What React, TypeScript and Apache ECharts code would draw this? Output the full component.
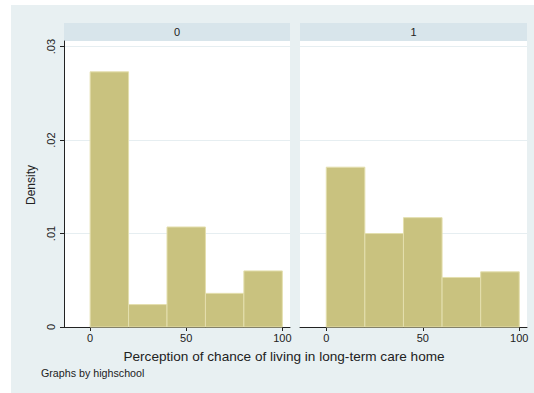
import React, { useEffect, useRef } from "react";
import * as echarts from "echarts";

// Histogram bins (left edges) and bin width, shared by both panels
const binStarts = [0, 20, 40, 60, 80];
const binWidth = 20;
// Density per bin for each highschool group
const densityGroup0 = [0.0273, 0.0024, 0.0107, 0.0036, 0.006];
const densityGroup1 = [0.0171, 0.01, 0.0117, 0.0053, 0.0059];
const panelTitles = ["0", "1"];
const xTicks = [0, 50, 100];
const yTicks = [0, 0.01, 0.02, 0.03];

const FONT = "Liberation Sans, Arial, Helvetica, sans-serif";
const BAR_FILL = "#c9c27f";
const BAR_EDGE = "#e4dfae";
const BG = "#e8f0f2";
const STRIP = "#d8e5eb";
const GRID_LINE = "#e6eef1";

const fmtY = (v: number) => (v === 0 ? "0" : v.toFixed(2).replace(/^0\./, "."));

function histSeries(values: number[], idx: number) {
  return {
    type: "custom",
    xAxisIndex: idx,
    yAxisIndex: idx,
    data: binStarts.map((s, i) => [s, s + binWidth, values[i]]),
    renderItem: (params: any, api: any) => {
      const x0 = api.value(0);
      const x1 = api.value(1);
      const y = api.value(2);
      const p0 = api.coord([x0, y]);
      const p1 = api.coord([x1, 0]);
      return {
        type: "rect",
        shape: { x: p0[0], y: p0[1], width: p1[0] - p0[0], height: p1[1] - p0[1] },
        style: { fill: BAR_FILL, stroke: BAR_EDGE, lineWidth: 1 },
      };
    },
  };
}

function xAxis(idx: number) {
  return {
    type: "value",
    gridIndex: idx,
    min: -13.6,
    max: 104,
    axisLine: { show: true, lineStyle: { color: "#222", width: 1 } },
    axisTick: { show: true, length: 4, customValues: xTicks, lineStyle: { color: "#222" } },
    axisLabel: {
      customValues: xTicks,
      color: "#222",
      fontFamily: FONT,
      fontSize: 11,
      margin: 5,
    },
    splitLine: { show: false },
  };
}

function yAxis(idx: number) {
  const first = idx === 0;
  return {
    type: "value",
    gridIndex: idx,
    min: 0,
    max: 0.0306,
    axisLine: { show: first, onZero: false, lineStyle: { color: "#222", width: 1 } },
    axisTick: { show: first, length: 4, customValues: yTicks, lineStyle: { color: "#222" } },
    axisLabel: {
      show: first,
      customValues: yTicks,
      rotate: 90,
      color: "#222",
      fontFamily: FONT,
      fontSize: 11,
      margin: 8,
      formatter: fmtY,
    },
    splitLine: { show: true, lineStyle: { color: GRID_LINE, width: 1 } },
  };
}

export default function App() {
  const ref = useRef<HTMLDivElement>(null);
  useEffect(() => {
    if (!ref.current) return;
    const chart = echarts.init(ref.current, undefined, { renderer: "svg" });
    const gridTop = 41;
    const gridHeight = 286;
    const panels = [
      { left: 64, width: 226 },
      { left: 300, width: 227 },
    ];
    chart.setOption({
      animation: false,
      backgroundColor: "#ffffff",
      grid: panels.map((p) => ({
        left: p.left,
        top: gridTop,
        width: p.width,
        height: gridHeight,
        show: true,
        backgroundColor: "#ffffff",
        borderWidth: 0,
      })),
      xAxis: [xAxis(0), xAxis(1)],
      yAxis: [yAxis(0), yAxis(1)],
      series: [histSeries(densityGroup0, 0), histSeries(densityGroup1, 1)],
      graphic: [
        {
          type: "rect",
          z: -10,
          silent: true,
          shape: { x: 11, y: 5, width: 523, height: 388 },
          style: { fill: BG },
        },
        ...panels.map((p, i) => ({
          type: "group",
          children: [
            {
              type: "rect",
              shape: { x: p.left, y: 23, width: p.width, height: 18 },
              style: { fill: STRIP },
            },
            {
              type: "text",
              x: p.left + p.width / 2,
              y: 32,
              style: {
                text: panelTitles[i],
                fill: "#222",
                font: `11px ${FONT}`,
                textAlign: "center",
                textVerticalAlign: "middle",
              },
            },
          ],
        })),
        {
          type: "text",
          x: 31,
          y: 185,
          rotation: Math.PI / 2,
          style: {
            text: "Density",
            fill: "#222",
            font: `12px ${FONT}`,
            textAlign: "center",
            textVerticalAlign: "middle",
          },
        },
        {
          type: "text",
          x: 284,
          y: 356,
          style: {
            text: "Perception of chance of living in long-term care home",
            fill: "#222",
            font: `13.6px ${FONT}`,
            textAlign: "center",
            textVerticalAlign: "middle",
          },
        },
        {
          type: "text",
          x: 41,
          y: 373,
          style: {
            text: "Graphs by highschool",
            fill: "#222",
            font: `10.7px ${FONT}`,
            textAlign: "left",
            textVerticalAlign: "middle",
          },
        },
      ],
    });
    return () => chart.dispose();
  }, []);
  return (
    <div
      ref={ref}
      style={{ position: "fixed", left: 0, top: 0, width: 534, height: 393 }}
    />
  );
}
